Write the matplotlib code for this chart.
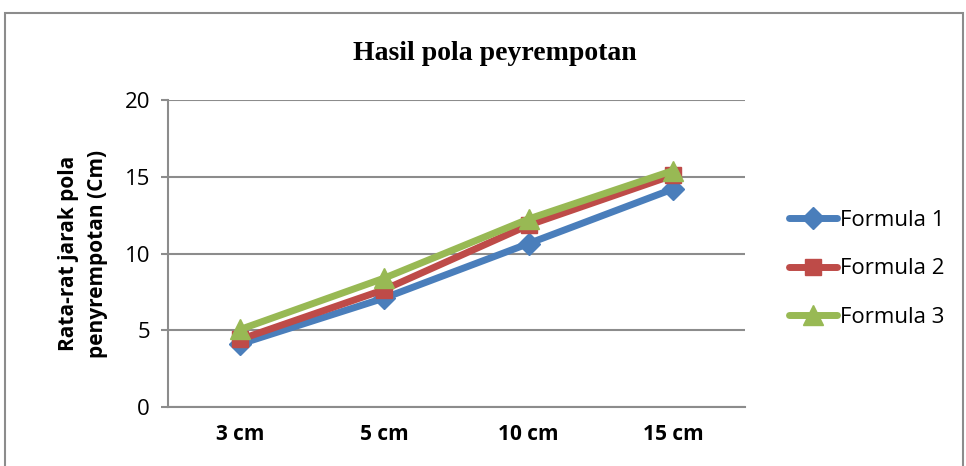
import matplotlib
matplotlib.use("Agg")
import matplotlib.pyplot as plt
from matplotlib.patches import Rectangle

categories = ["3 cm", "5 cm", "10 cm", "15 cm"]
formula1 = [4.1, 7.1, 10.65, 14.2]
formula2 = [4.4, 7.65, 11.85, 15.1]
formula3 = [5.05, 8.4, 12.25, 15.4]
series_names = ["Formula 1", "Formula 2", "Formula 3"]
y_ticks = [0, 5, 10, 15, 20]

fig = plt.figure(figsize=(9.66, 4.66), dpi=100)
fig.patches.append(Rectangle((5/966, -0.2), 958/966, 1.2 - 13/466,
                             transform=fig.transFigure, fill=False,
                             edgecolor="#8c8c8c", linewidth=1.5))
ax = fig.add_axes([168/966, 59/466, 577/966, 307/466])

x = list(range(len(categories)))
styles = [
    (formula1, "#4a7ebb", "D", 11),
    (formula2, "#be4b48", "s", 12),
    (formula3, "#98b954", "^", 14),
]
for (vals, col, mk, ms), name in zip(styles, series_names):
    ax.plot(x, vals, color=col, linewidth=5, marker=mk, markersize=ms,
            markeredgecolor=col, label=name, solid_capstyle="round")

ax.set_xlim(-0.5, len(categories) - 0.5)
ax.set_ylim(0, 20)
ax.set_yticks(y_ticks)
ax.yaxis.grid(True, color="#8c8c8c", linewidth=1.5)
ax.set_axisbelow(True)
for s in ["top", "right"]:
    ax.spines[s].set_visible(False)
for s in ["left", "bottom"]:
    ax.spines[s].set_color("#8c8c8c")
    ax.spines[s].set_linewidth(1.5)
ax.tick_params(axis="y", length=5, color="#8c8c8c", width=1.5, pad=8,
               labelsize=16)
ax.tick_params(axis="x", length=0, pad=12)
ax.set_xticks(x)
ax.set_xticklabels(categories, fontsize=15, fontweight="bold", family="Open Sans")
for lab in ax.get_yticklabels():
    lab.set_family("Open Sans")

ax.set_ylabel("Rata-rat jarak pola\npenyrempotan (Cm)", fontsize=15,
              fontweight="bold", family="Open Sans", labelpad=12, linespacing=1.5)

fig.text(495/966, 1 - 53/466, "Hasil pola peyrempotan", ha="center", va="center",
         fontsize=20, fontweight="bold", family="Liberation Serif")

leg = ax.legend(loc="center left", bbox_to_anchor=(1.06, 0.45), frameon=False,
                prop={"family": "Open Sans", "size": 16}, handlelength=2.2,
                handletextpad=0.1, labelspacing=1.25, borderaxespad=0)

fig.savefig("out.png", dpi=100)
